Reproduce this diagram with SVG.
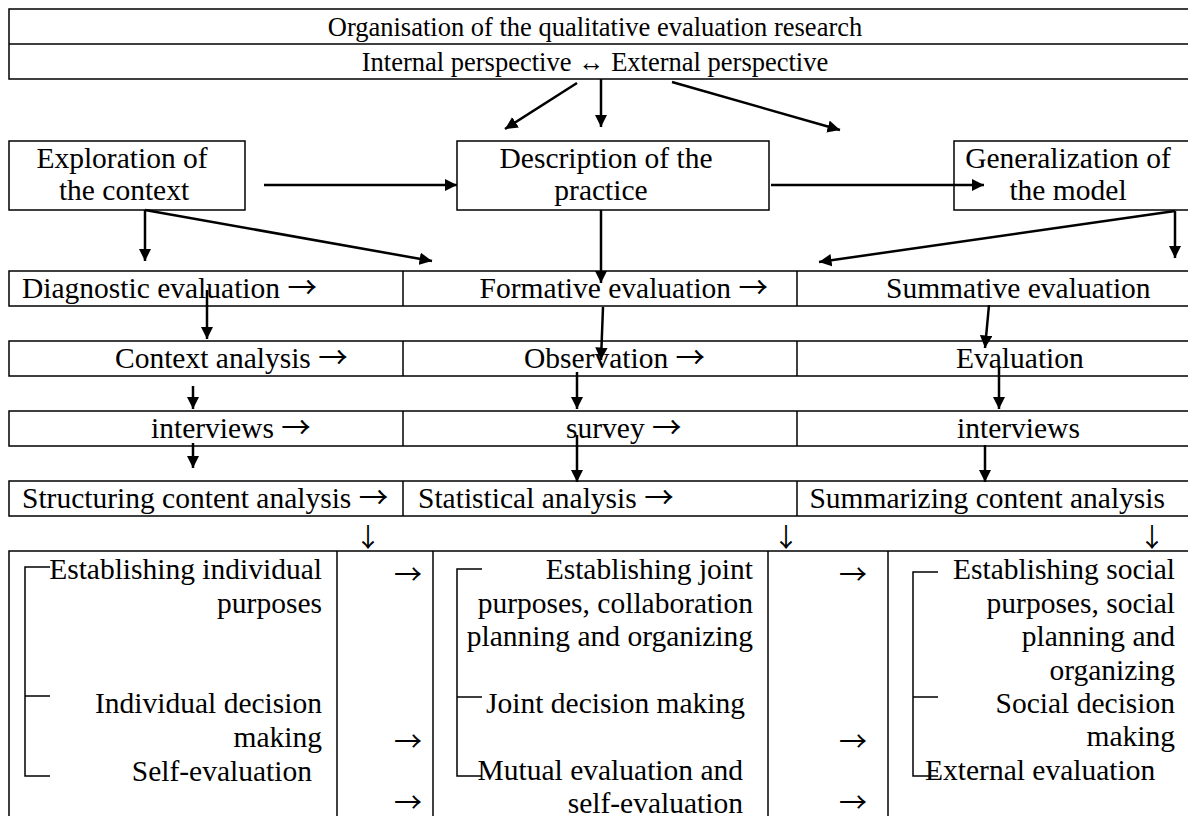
<svg xmlns="http://www.w3.org/2000/svg" width="1188" height="816" viewBox="0 0 1188 816">
<defs>
<marker id="ah" viewBox="0 0 10 10" refX="10" refY="5" markerWidth="5" markerHeight="5" markerUnits="strokeWidth" orient="auto">
<path d="M0,0 L10,5 L0,10 z" fill="#000"/>
</marker>
<style>
.t{font-family:"Liberation Serif","Times New Roman",serif;font-size:29.5px;fill:#000}
.h{font-size:26.5px}
.a{font-family:"Noto Sans CJK JP","Liberation Serif",sans-serif;fill:#000}
.m{text-anchor:middle}
.e{text-anchor:end}
.b{fill:#fff;stroke:#000;stroke-width:1.5}
.l{stroke:#000;stroke-width:1.5;fill:none}
.c{stroke:#000;stroke-width:2.5;fill:none;marker-end:url(#ah)}
</style>
</defs>
<rect width="1188" height="816" fill="#fff"/>

<g id="header">
<rect class="b" x="9" y="9" width="1185" height="70"/>
<line class="l" x1="9" y1="44" x2="1188" y2="44"/>
<text class="t h m" x="595" y="36">Organisation of the qualitative evaluation research</text>
<text class="t h m" x="595" y="71">Internal perspective ↔ External perspective</text>
</g>

<g id="exploration">
<rect class="b" x="9" y="141" width="236" height="69"/>
<text class="t m" x="122" y="168">Exploration of</text>
<text class="t m" x="124" y="200">the context</text>
</g>
<g id="description">
<rect class="b" x="457" y="141" width="312" height="69"/>
<text class="t m" x="606" y="168">Description of the</text>
<text class="t m" x="601" y="200">practice</text>
</g>
<g id="generalization">
<rect class="b" x="954" y="141" width="240" height="69"/>
<text class="t m" x="1068" y="168">Generalization of</text>
<text class="t m" x="1068" y="200">the model</text>
</g>

<g id="row1">
<rect class="b" x="9" y="271" width="1185" height="35"/>
<line class="l" x1="403" y1="271" x2="403" y2="306"/>
<line class="l" x1="797" y1="271" x2="797" y2="306"/>
<text class="t" x="22" y="298">Diagnostic evaluation <tspan class="a">→</tspan></text>
<text class="t e" x="768" y="298">Formative evaluation <tspan class="a">→</tspan></text>
<text class="t" x="886" y="298">Summative evaluation</text>
</g>
<g id="row2">
<rect class="b" x="9" y="341" width="1185" height="35"/>
<line class="l" x1="403" y1="341" x2="403" y2="376"/>
<line class="l" x1="797" y1="341" x2="797" y2="376"/>
<text class="t" x="115" y="368">Context analysis <tspan class="a">→</tspan></text>
<text class="t" x="524" y="368">Observation <tspan class="a">→</tspan></text>
<text class="t" x="956" y="368">Evaluation</text>
</g>
<g id="row3">
<rect class="b" x="9" y="411" width="1185" height="35"/>
<line class="l" x1="403" y1="411" x2="403" y2="446"/>
<line class="l" x1="797" y1="411" x2="797" y2="446"/>
<text class="t" x="151" y="438">interviews <tspan class="a">→</tspan></text>
<text class="t" x="566" y="438">survey <tspan class="a">→</tspan></text>
<text class="t" x="957" y="438">interviews</text>
</g>
<g id="row4">
<rect class="b" x="9" y="481" width="1185" height="35"/>
<line class="l" x1="403" y1="481" x2="403" y2="516"/>
<line class="l" x1="797" y1="481" x2="797" y2="516"/>
<text class="t" x="22" y="508">Structuring content analysis <tspan class="a">→</tspan></text>
<text class="t" x="418" y="508">Statistical analysis <tspan class="a">→</tspan></text>
<text class="t e" x="1165" y="508">Summarizing content analysis</text>
</g>

<g id="down-arrows">
<text class="a m" x="368" y="547" font-size="26">↓</text>
<text class="a m" x="786" y="547" font-size="26">↓</text>
<text class="a m" x="1152" y="547" font-size="26">↓</text>
</g>

<g id="bottom">
<rect class="b" x="9" y="551" width="1185" height="275"/>
<line class="l" x1="337" y1="551" x2="337" y2="816"/>
<line class="l" x1="433" y1="551" x2="433" y2="816"/>
<line class="l" x1="768" y1="551" x2="768" y2="816"/>
<line class="l" x1="888" y1="551" x2="888" y2="816"/>
<path class="l" d="M50,567 H25 V776 H50 M25,696 H50"/>
<path class="l" d="M482,569 H457 V776 H482 M457,697 H482"/>
<path class="l" d="M938,572 H913 V776 H938 M913,697 H938"/>
<text class="t e" x="322" y="579">Establishing individual</text>
<text class="t e" x="322" y="613">purposes</text>
<text class="t e" x="322" y="713">Individual decision</text>
<text class="t e" x="322" y="747">making</text>
<text class="t e" x="312" y="781">Self-evaluation</text>
<text class="t e" x="753" y="579">Establishing joint</text>
<text class="t e" x="753" y="613">purposes, collaboration</text>
<text class="t e" x="753" y="646">planning and organizing</text>
<text class="t e" x="745" y="713">Joint decision making</text>
<text class="t e" x="743" y="780">Mutual evaluation and</text>
<text class="t e" x="743" y="813">self-evaluation</text>
<text class="t e" x="1175" y="579">Establishing social</text>
<text class="t e" x="1175" y="613">purposes, social</text>
<text class="t e" x="1175" y="646">planning and</text>
<text class="t e" x="1175" y="680">organizing</text>
<text class="t e" x="1175" y="713">Social decision</text>
<text class="t e" x="1175" y="746">making</text>
<text class="t" x="925" y="780">External evaluation</text>
<text class="a e" x="422" y="585" font-size="28">→</text>
<text class="a e" x="422" y="752" font-size="28">→</text>
<text class="a e" x="422" y="813" font-size="28">→</text>
<text class="a e" x="867" y="585" font-size="28">→</text>
<text class="a e" x="867" y="752" font-size="28">→</text>
<text class="a e" x="867" y="813" font-size="28">→</text>
</g>

<g id="connectors">
<line class="c" x1="577" y1="83" x2="505" y2="129"/>
<line class="c" x1="601" y1="79" x2="601" y2="127"/>
<line class="c" x1="672" y1="82" x2="840" y2="130"/>
<line class="c" x1="264" y1="185" x2="457" y2="185"/>
<line class="c" x1="771" y1="185" x2="984" y2="185"/>
<line class="c" x1="145" y1="210" x2="145" y2="261"/>
<line class="c" x1="145" y1="210" x2="432" y2="261"/>
<line class="c" x1="601" y1="210" x2="601" y2="283"/>
<line class="c" x1="1175" y1="211" x2="1175" y2="258"/>
<line class="c" x1="1175" y1="211" x2="819" y2="262"/>
<line class="c" x1="207" y1="290" x2="207" y2="339"/>
<line class="c" x1="603" y1="307" x2="601" y2="360"/>
<line class="c" x1="989" y1="305" x2="985" y2="348"/>
<line class="c" x1="193" y1="386" x2="193" y2="409"/>
<line class="c" x1="577" y1="372" x2="577" y2="409"/>
<line class="c" x1="999" y1="366" x2="999" y2="409"/>
<line class="c" x1="193" y1="443" x2="193" y2="468"/>
<line class="c" x1="577" y1="435" x2="577" y2="482"/>
<line class="c" x1="985" y1="445" x2="985" y2="482"/>
</g>
</svg>
